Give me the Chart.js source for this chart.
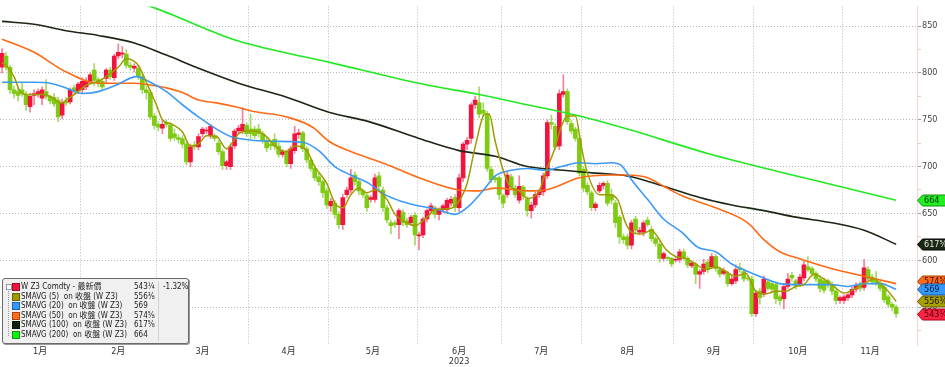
<!DOCTYPE html>
<html>
<head>
<meta charset="utf-8">
<script src="https://cdn.jsdelivr.net/npm/chart.js@4.4.0/dist/chart.umd.min.js"></script>
<style>
  html, body { margin: 0; padding: 0; background: #fff; }
  #wrap { position: relative; width: 945px; height: 367px; }
  #legend {
    position: absolute; left: 2px; top: 278px; width: 185px; height: 64px;
    background: #f0f0f0; border: 1px solid #6a6a6a; border-radius: 3px;
    box-shadow: 1px 1px 0 #9a9a9a;
    font: 8px "Liberation Sans Narrow", "DejaVu Sans Condensed", "Noto Sans CJK TC", sans-serif;
    color: #1a1a1a;
  }
  #legend .row { position: absolute; left: 0; height: 10px; line-height: 10px; white-space: pre; }
  #legend .sw { position: absolute; left: 9px; top: 1px; width: 6px; height: 6px; border: 1px solid rgba(0,0,0,0.35); }
  #legend .nm { position: absolute; left: 18px; }
  #legend .vl { position: absolute; left: 131px; }
  #legend .ch { position: absolute; left: 160px; }
  #legend .sep { position: absolute; left: 155px; top: 2px; width: 1px; height: 60px; background: #d2d2d2; }
  #legend .tree { position: absolute; left: 5px; top: 9px; width: 0; height: 48px; border-left: 1px dotted #999; }
  #legend .box { position: absolute; left: 3px; top: 5px; width: 4px; height: 4px; border: 1px solid #999; background: #fff; }
</style>
</head>
<body>
<div id="wrap">
  <canvas id="chart" width="945" height="367"></canvas>
  <div id="legend"></div>
</div>
<script>
// W Z3 daily candles, Jan-Nov 2023, with simple moving averages
const months = ["1月", "2月", "3月", "4月", "5月", "6月", "7月", "8月", "9月", "10月", "11月"];
const monthDays = [20, 19, 23, 20, 22, 21, 20, 23, 20, 22, 14];
const yTickValues = [525, 550, 575, 600, 625, 650, 675, 700, 725, 750, 775, 800, 825, 850];

const opens = [
  806,818,806,782,780,782,776,764,776,777, 773,780,775,774,771,755,770,769,784,781,
  782,785,791,803,793,791,794,803,795,818, 820,820,808,805,805,796,782,779,754,745,
  741,747,744,735,731,730,724,705,723,721, 735,738,733,733,725,716,701,700,722,738,
  738,744,740,740,740,735,728,724,729,722, 713,716,703,717,734,736,719,707,698,689,
  684,674,658,661,649,638,670,675,691,684, 674,669,665,665,690,675,656,640,640,638,
  651,642,640,648,626,627,644,653,656,649, 654,654,661,667,656,688,724,730,766,768,
  760,756,697,688,688,669,670,689,677,664, 678,665,653,659,670,673,690,747,743,722,
  777,780,746,740,730,697,680,672,656,674, 680,682,670,661,646,625,625,616,644,630,
  630,643,633,623,617,602,603,602,600,601, 609,602,594,596,585,588,598,593,604,590,
  586,586,575,578,592,588,581,580,543,567, 564,577,575,574,561,559,572,584,578,575,
  581,593,591,586,580,578,578,574,567,557, 557,560,563,569,574,571,590,582,578,576,
  571,561,553,550
];
const highs = [
  826,822,808,786,784,790,780,778,782,783, 785,793,776,778,774,772,774,784,787,790,
  795,795,800,810,795,794,805,806,820,831, 828,825,811,810,808,800,786,781,757,748,
  750,750,747,740,734,733,727,724,727,735, 742,742,745,735,728,718,707,724,740,744,
  763,747,756,743,745,738,731,728,735,725, 718,718,722,743,740,738,721,709,701,693,
  686,677,666,664,652,670,678,697,694,686, 676,671,669,692,694,678,659,643,642,655,
  654,645,648,651,630,646,655,661,658,656, 660,666,668,670,692,726,731,768,775,785,
  768,759,700,690,690,671,694,692,680,690, 680,668,662,673,676,693,750,755,746,782,
  798,783,749,742,733,700,683,674,662,683, 684,685,676,664,648,628,628,643,647,635,
  642,646,636,625,620,609,604,603,603,612, 612,604,599,598,590,601,601,607,606,593,
  592,588,584,595,597,591,583,583,568,570, 583,579,578,577,563,575,586,587,580,585,
  599,604,593,588,583,581,580,577,569,562, 563,565,571,576,577,601,593,585,588,579,
  574,563,555,552
];
const lows = [
  800,803,778,773,770,775,760,758,766,774, 766,772,767,764,748,751,765,767,777,778,
  778,782,788,786,785,781,789,793,792,815, 816,805,803,801,793,778,772,750,740,738,
  735,742,727,728,725,720,702,700,718,718, 732,735,730,727,713,697,697,697,719,735,
  735,732,730,730,732,725,716,718,718,710, 710,700,698,714,730,716,704,695,685,680,
  667,655,652,645,634,633,667,672,680,670, 667,652,662,662,675,652,640,628,635,623,
  637,635,637,616,611,624,641,650,645,643, 651,650,658,652,652,684,718,725,762,752,
  754,695,683,683,665,656,667,675,667,661, 665,647,645,656,667,669,687,740,718,718,
  774,745,735,727,690,673,670,653,653,672, 676,658,660,635,618,618,612,612,628,627,
  626,636,620,615,598,599,600,593,598,598, 600,592,592,575,570,585,587,591,588,582,
  584,572,573,575,587,577,578,540,540,553, 561,568,566,554,552,548,570,578,569,572,
  578,588,583,577,566,565,571,563,553,554, 554,557,560,566,567,568,577,574,573,567,
  555,550,546,539
];
const closes = [
  821,806,782,778,776,778,766,775,778,780, 782,775,770,767,753,768,768,782,780,788,
  791,791,798,792,789,785,803,796,818,822, 821,808,806,807,796,782,779,753,744,742,
  745,745,730,731,729,724,705,721,721,732, 740,739,743,730,716,701,705,721,738,741,
  745,735,735,733,735,728,720,722,722,713, 716,703,719,735,736,719,707,698,688,684,
  672,659,663,649,638,667,675,688,684,674, 670,656,667,688,679,656,643,637,638,653,
  640,638,646,627,627,644,653,658,649,654, 658,664,665,656,688,724,728,766,771,756,
  757,698,686,686,670,661,691,678,670,679, 668,653,659,670,673,690,747,745,721,778,
  780,748,738,730,693,677,673,656,660,680, 682,661,664,640,625,622,616,640,632,632,
  640,638,623,618,602,607,602,596,601,609, 602,595,597,585,588,596,590,604,591,585,
  589,575,580,590,590,580,580,543,565,560, 580,570,569,559,557,572,580,581,572,582,
  595,590,586,580,570,568,574,567,557,560, 561,563,569,573,570,592,580,577,576,570,
  558,553,550,543
];

// moving averages as [day index, value]
const sma5 = [[0,811],[1,808],[3,796],[4.5,780],[6,777],[8,777],[10,777],[12,775],[14,769],[15,768],[16,771],[19,780],[21,787],[24,791],[26,796],[29,806],[31,815],[34,808],[36,790],[38.5,766],[40,750],[42.5,745],[45,737],[47,722],[49,724],[51,733],[53.5,732],[56,719],[57.5,726],[59,735],[61,738],[63,738],[66,732],[68,722],[71,716],[73,722],[76,717],[78,700],[81,682],[83,661],[85,656],[87,670],[89,677],[91,672],[93,675],[96,665],[98,649],[101,640],[103,637],[106,646],[108,654],[111,655],[113,658],[116,682],[118,721],[120.5,756],[121.5,756],[123,727],[124.5,703],[126.5,680],[129,674],[131,666],[134,674],[135.5,693],[138,721],[139.5,743],[141,754],[143,754],[144.5,721],[146,693],[149,670],[151,670],[153.5,665],[155.5,640],[157,630],[159.5,628],[162,632],[163.5,625],[165.5,612],[168,604],[170.5,602],[173,596],[175.5,590],[178,593],[180.5,588],[183,583],[185.5,586],[188,567],[190.5,564],[193,567],[195.5,567],[198,572],[200,574],[202.5,585],[205,580],[207.5,572],[210,565],[212.5,569],[215,575],[217.5,580],[219,575],[221,567],[223,556]];
const sma20 = [[0,790],[8,790],[12,789],[16,784],[20,778],[24,780],[28.5,787],[33.5,796],[37,790],[41,780],[45,766],[49,753],[53.5,740],[57,732],[59,730],[66.5,727],[75,726],[79,717],[83,700],[87,691],[91.5,682],[95.5,670],[99.5,663],[104,658],[108,655],[113,649],[116.5,658],[120.5,677],[123,690],[127,696],[131,698],[135.5,696],[139.5,700],[144,704],[148,703],[152,704],[154.5,701],[157,686],[161,665],[165,644],[169.5,630],[173.5,614],[178,609],[182,596],[186,588],[190,581],[194,575],[198.5,574],[203,574],[207,574],[211,572],[215,575],[219,575],[223,569]];
const sma50 = [[0,836],[8,822],[16,801],[24,789],[33,789],[37,787],[41,784],[45,779],[49,771],[53.5,768],[59,763],[62.5,759],[71,753],[77.5,742],[81.5,727],[87,716],[95.5,703],[104,688],[114,675],[119,674],[123,677],[131,674],[135.5,675],[144,688],[152,691],[156,691],[161,688],[165,679],[169.5,669],[178,656],[186,640],[190,622],[194,609],[198.5,602],[207,591],[215,583],[223,575]];
const sma100 = [[0,855],[8,852],[16,845],[24,840],[33,832],[41,819],[49,805],[59,789],[71,774],[81.5,758],[91.5,748],[104,730],[114,717],[123,711],[131,700],[140,696],[148,693],[156,690],[165,679],[174,667],[182,659],[190,653],[198,646],[207,640],[215,632],[223,617]];
const sma200 = [[29,881],[37,871],[59,834],[82,811],[106,787],[119,777],[131,766],[144,754],[156,740],[176,714],[200,688],[223,664]];

const legendNames = ["W Z3 Comdty - 最新價", "SMAVG (5)  on 收盤 (W Z3)", "SMAVG (20)  on 收盤 (W Z3)",
  "SMAVG (50)  on 收盤 (W Z3)", "SMAVG (100)  on 收盤 (W Z3)", "SMAVG (200)  on 收盤 (W Z3)"];
const legendValues = ["543¼", "556⅜", "569", "574⅝", "617⅝", "664"];
const lastChange = "-1.32%";
const lastValues = [543, 556, 569, 574, 617, 664];

const COLORS = {
  up: "#F2143E", down: "#7FCA12", upWick: "#F57F96", downWick: "#A6D866",
  sma5: "#A09A00", sma20: "#3D9BF5", sma50: "#FF6A14", sma100: "#1C2614", sma200: "#20EA20",
};
const swatches = [COLORS.up, COLORS.sma5, "#3399FF", COLORS.sma50, "#102010", "#11EE11"];

// month boundaries (gridlines) and mid-month label positions, in day-index units
const boundaryTicks = [];
const labelTicks = {};
let start = 0;
monthDays.forEach((n, k) => {
  labelTicks[start + (n - 1) / 2] = k === 5 ? [months[k], "2023"] : months[k];
  if (k < monthDays.length - 1) boundaryTicks.push(start + n - 0.5);
  start += n;
});
const xTickValues = boundaryTicks.concat(Object.keys(labelTicks).map(Number)).sort((a, b) => a - b);

const isUp = i => closes[i] >= opens[i];
const toPts = arr => arr.map(p => ({ x: p[0], y: p[1] }));

const FONT = '"Liberation Sans Narrow", "DejaVu Sans Condensed", "Noto Sans CJK TC", sans-serif';

// price tags on the right axis
const tagPlugin = {
  id: "tags",
  afterDraw(chart) {
    const ctx = chart.ctx;
    const y = chart.scales.y;
    const x0 = chart.chartArea.right;
    const tags = [
      { v: lastValues[5], t: "664", bg: "#22EE22", fg: "#063006", bd: "#129012", dy: 0 },
      { v: lastValues[4], t: "617⅝", bg: "#1B2812", fg: "#E6E6E6", bd: "#000000", dy: 0 },
      { v: lastValues[3], t: "574⅝", bg: "#FF6A1A", fg: "#3A1200", bd: "#A84000", dy: -4 },
      { v: lastValues[2], t: "569", bg: "#3399FF", fg: "#001B3A", bd: "#1A5FA8", dy: 0 },
      { v: lastValues[1], t: "556⅜", bg: "#A89F00", fg: "#1E1C00", bd: "#5E5800", dy: 0 },
      { v: lastValues[0], t: "543¼", bg: "#FF2244", fg: "#3A0008", bd: "#A0001A", dy: 0 },
    ];
    ctx.save();
    ctx.font = "9px " + FONT;
    ctx.textBaseline = "middle";
    tags.forEach(tag => {
      const yc = Math.round(y.getPixelForValue(tag.v)) + tag.dy + 0.5;
      const h = 11;
      ctx.beginPath();
      ctx.moveTo(x0 + 0.5, yc);
      ctx.lineTo(x0 + 5.5, yc - h / 2);
      ctx.lineTo(chart.width + 1, yc - h / 2);
      ctx.lineTo(chart.width + 1, yc + h / 2);
      ctx.lineTo(x0 + 5.5, yc + h / 2);
      ctx.closePath();
      ctx.fillStyle = tag.bg;
      ctx.fill();
      ctx.strokeStyle = tag.bd;
      ctx.lineWidth = 1;
      ctx.stroke();
      ctx.fillStyle = tag.fg;
      ctx.fillText(tag.t, x0 + 7, yc + 0.5);
    });
    ctx.restore();
  },
};

new Chart(document.getElementById("chart"), {
  type: "bar",
  data: {
    datasets: [
      { type: "line", label: "SMAVG (5)", data: toPts(sma5), borderColor: COLORS.sma5, borderWidth: 1.5, pointRadius: 0, cubicInterpolationMode: "monotone", order: 1 },
      { type: "line", label: "SMAVG (20)", data: toPts(sma20), borderColor: COLORS.sma20, borderWidth: 1.6, pointRadius: 0, cubicInterpolationMode: "monotone", order: 2 },
      { type: "line", label: "SMAVG (50)", data: toPts(sma50), borderColor: COLORS.sma50, borderWidth: 1.6, pointRadius: 0, cubicInterpolationMode: "monotone", order: 3 },
      { type: "line", label: "SMAVG (100)", data: toPts(sma100), borderColor: COLORS.sma100, borderWidth: 1.6, pointRadius: 0, cubicInterpolationMode: "monotone", order: 4 },
      { type: "line", label: "SMAVG (200)", data: toPts(sma200), borderColor: COLORS.sma200, borderWidth: 1.6, pointRadius: 0, cubicInterpolationMode: "monotone", order: 5 },
      {
        label: "body", order: 19, grouped: false, barThickness: 4, minBarLength: 1,
        data: opens.map((o, i) => ({ x: i, y: [o, closes[i]] })),
        backgroundColor: opens.map((o, i) => isUp(i) ? COLORS.up : COLORS.down),
      },
      {
        label: "wick", order: 20, grouped: false, barThickness: 1,
        data: lows.map((l, i) => ({ x: i, y: [l, highs[i]] })),
        backgroundColor: lows.map((l, i) => isUp(i) ? COLORS.upWick : COLORS.downWick),
      },
    ],
  },
  options: {
    responsive: false,
    animation: false,
    devicePixelRatio: 1,
    layout: { padding: 0 },
    plugins: { legend: { display: false }, tooltip: { enabled: false } },
    scales: {
      x: {
        type: "linear", min: -0.5, max: 228.2, offset: false,
        afterBuildTicks: s => { s.ticks = xTickValues.map(v => ({ value: v })); },
        afterFit: s => { s.height = 22; },
        grid: {
          offset: false, drawTicks: false, lineWidth: 1,
          color: c => (c.tick && boundaryTicks.includes(c.tick.value)) ? "#b8b8b8" : "rgba(0,0,0,0)",
        },
        border: { display: false, dash: [1, 2] },
        ticks: {
          autoSkip: false, maxRotation: 0, padding: 1, color: "#333",
          font: { size: 9, family: FONT, lineHeight: 1.15 },
          callback: v => labelTicks[v] !== undefined ? labelTicks[v] : "",
        },
      },
      y: {
        type: "linear", position: "right", min: 509.5, max: 871,
        afterBuildTicks: s => { s.ticks = yTickValues.map(v => ({ value: v })); },
        afterFit: s => { s.width = 28; },
        grid: {
          drawTicks: true, tickLength: 4, lineWidth: 1,
          color: c => (c.tick && c.tick.value % 50 === 0) ? "#b8b8b8" : "rgba(0,0,0,0)",
          tickColor: c => (c.tick && c.tick.value % 50 === 0) ? "#a0a0a0" : "#f2c4c4",
        },
        border: { display: true, color: "#f6cfcf", width: 1, dash: [1, 2] },
        ticks: {
          padding: 1, color: "#444",
          font: { size: 9, family: FONT },
          callback: v => v % 50 === 0 ? String(v) : "",
        },
      },
    },
  },
  plugins: [tagPlugin],
});

// legend box
const lg = document.getElementById("legend");
let html = '<div class="sep"></div><div class="tree"></div><div class="box"></div>';
legendNames.forEach((name, k) => {
  html += `<div class="row" style="top:${3 + k * 9.6}px;width:185px">` +
    `<span class="sw" style="background:${swatches[k]}"></span>` +
    `<span class="nm">${name}</span><span class="vl">${legendValues[k]}</span>` +
    (k === 0 ? `<span class="ch">${lastChange}</span>` : "") + `</div>`;
});
lg.innerHTML = html;
</script>
</body>
</html>
